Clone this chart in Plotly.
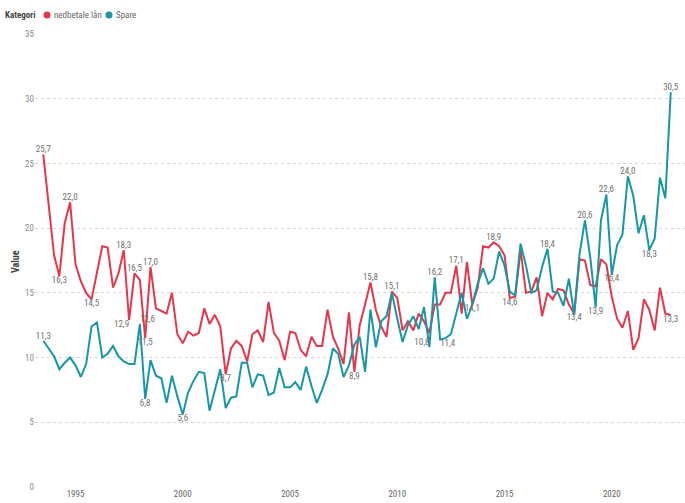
import pandas as pd
import plotly.graph_objects as go

# Quarterly observations, 1993 Q3 onward
periods = pd.date_range("1993-07-01", periods=118, freq="QS")

nedbetale_laan = [
    25.7, 21.8, 17.9, 16.3, 20.4, 22.0, 17.2, 15.9, 15.0, 14.5,
    16.5, 18.6, 18.5, 15.4, 16.5, 18.3, 12.9, 16.5, 16.0, 11.5,
    17.0, 13.8, 13.6, 13.4, 15.0, 11.8, 11.1, 12.0, 11.7, 11.9,
    13.8, 12.6, 13.3, 12.4, 8.7, 10.7, 11.3, 10.9, 9.7, 11.8,
    12.1, 11.2, 14.3, 11.9, 11.3, 9.8, 12.0, 11.9, 10.6, 10.1,
    11.6, 10.9, 10.9, 13.7, 11.6, 10.7, 9.5, 13.5, 8.9, 12.5,
    14.1, 15.8, 13.7, 12.4, 11.6, 15.1, 14.6, 12.1, 12.8, 12.1,
    13.4, 12.8, 11.9, 14.1, 14.1, 15.0, 15.0, 17.1, 13.4, 17.4,
    14.1, 15.4, 18.6, 18.5, 18.9, 18.6, 17.9, 14.6, 14.7, 18.3,
    15.0, 15.1, 16.2, 13.2, 15.0, 14.5, 15.3, 15.2, 14.1, 13.4,
    17.6, 17.5, 15.6, 15.5, 17.6, 17.2, 14.7, 13.0, 12.3, 13.6,
    10.6, 11.5, 14.5, 13.7, 12.1, 15.4, 13.4, 13.3,
]

spare = [
    11.3, 10.7, 10.1, 9.1, 9.6, 10.0, 9.4, 8.5, 9.5, 12.4,
    12.7, 10.0, 10.3, 10.9, 10.1, 9.7, 9.5, 9.5, 12.6, 6.8,
    9.8, 8.6, 8.4, 6.5, 8.6, 7.0, 5.6, 7.3, 8.2, 8.9,
    8.8, 5.9, 7.5, 9.1, 6.1, 6.9, 7.0, 9.6, 9.6, 7.7,
    8.7, 8.6, 7.1, 7.3, 9.2, 7.7, 7.7, 8.1, 7.5, 9.3,
    7.8, 6.5, 7.5, 8.7, 10.7, 10.3, 8.5, 9.4, 11.0, 11.6,
    8.9, 13.7, 10.8, 12.8, 13.2, 15.0, 13.0, 11.2, 12.5, 13.2,
    12.2, 13.9, 10.8, 16.2, 11.4, 11.5, 11.8, 13.4, 15.0, 13.0,
    14.1, 15.7, 16.9, 15.7, 16.1, 18.2, 17.1, 15.1, 14.8, 18.8,
    17.1, 15.0, 15.2, 17.0, 18.4, 15.1, 15.0, 14.0, 16.1, 13.3,
    18.0, 20.6, 17.7, 13.9, 20.6, 22.6, 16.4, 18.7, 19.5, 24.0,
    22.5, 19.6, 21.0, 18.3, 19.2, 23.9, 22.3, 30.5,
]

# Which points carry a data label (index into the series), above / below
red_labels_above = [0, 5, 15, 17, 20, 61, 65, 77, 84]
red_labels_below = [3, 9, 16, 19, 34, 58, 80, 87, 99, 117]
teal_labels_above = [0, 18, 72, 73, 94, 101, 105, 109, 117]
teal_labels_below = [19, 26, 74, 103, 106, 113]
# a few crowded labels are nudged sideways
label_side = {("red", 16): "left", ("teal", 18): "right",
              ("teal", 72): "left", ("teal", 74): "right"}

year_ticks = ["1995", "2000", "2005", "2010", "2015", "2020"]
legend_title = "Kategori"
series_names = ["nedbetale lån", "Spare"]

RED = "#E6364B"
TEAL = "#1797A6"
LABEL_GREY = "#707070"
FONT = "Roboto Condensed, Liberation Sans Narrow, DejaVu Sans Condensed, Roboto, sans-serif"


def fmt(v):
    return f"{v:.1f}".replace(".", ",")


fig = go.Figure()

fig.add_trace(go.Scatter(x=periods, y=nedbetale_laan, mode="lines",
                         line=dict(color=RED, width=2), name=series_names[0]))
fig.add_trace(go.Scatter(x=periods, y=spare, mode="lines",
                         line=dict(color=TEAL, width=2), name=series_names[1]))

for key, series, idx_list, vpos in [
    ("red", nedbetale_laan, red_labels_above, "top"),
    ("red", nedbetale_laan, red_labels_below, "bottom"),
    ("teal", spare, teal_labels_above, "top"),
    ("teal", spare, teal_labels_below, "bottom"),
]:
    fig.add_trace(go.Scatter(
        x=[periods[i] for i in idx_list],
        y=[series[i] for i in idx_list],
        mode="text",
        text=[fmt(series[i]) for i in idx_list],
        textposition=[f"{vpos} {label_side.get((key, i), 'center')}" for i in idx_list],
        textfont=dict(family=FONT, size=9, color=LABEL_GREY),
        hoverinfo="skip", cliponaxis=False,
    ))

# compact legend drawn at the top-left (pixel geometry: plot spans x 35..685, y 34..487)
PW, PH, L = 650.0, 453.0, 35.0


def px_x(x):
    return (x - L) / PW


def px_y(y):
    return (487.0 - y) / PH


annotations = [
    dict(text=f"<b>{legend_title}</b>", x=px_x(3), y=px_y(15), xref="paper", yref="paper",
         xanchor="left", yanchor="middle", showarrow=False,
         font=dict(family=FONT, size=9, color="#444444")),
    dict(text=series_names[0], x=px_x(52), y=px_y(15), xref="paper", yref="paper",
         xanchor="left", yanchor="middle", showarrow=False,
         font=dict(family=FONT, size=9, color="#666666")),
    dict(text=series_names[1], x=px_x(114), y=px_y(15), xref="paper", yref="paper",
         xanchor="left", yanchor="middle", showarrow=False,
         font=dict(family=FONT, size=9, color="#666666")),
    dict(text="<b>Value</b>", textangle=-90, xref="paper", yref="paper",
         x=px_x(15), y=px_y(262), xanchor="center", yanchor="middle", showarrow=False,
         font=dict(family=FONT, size=10, color="#444444")),
]

shapes = []
for cx, col in [(47, RED), (109, TEAL)]:
    shapes.append(dict(type="circle", xref="paper", yref="paper",
                       x0=px_x(cx - 3.5), x1=px_x(cx + 3.5),
                       y0=px_y(15 + 3.5), y1=px_y(15 - 3.5),
                       fillcolor=col, line=dict(width=0)))

fig.update_layout(
    width=685, height=503,
    margin=dict(l=35, r=0, t=34, b=16, autoexpand=False),
    paper_bgcolor="white", plot_bgcolor="white",
    font=dict(family=FONT, size=9, color="#777777"),
    showlegend=False,
    xaxis=dict(
        type="date",
        range=["1993-02-10", "2023-06-01"],
        tickvals=[f"{y}-01-01" for y in year_ticks],
        ticktext=year_ticks,
        showgrid=False, zeroline=False, showline=False,
        ticks="", tickfont=dict(family=FONT, size=9, color="#666666"),
        automargin=False,
    ),
    yaxis=dict(
        range=[0, 35], tickvals=[0, 5, 10, 15, 20, 25, 30, 35],
        showgrid=True, gridcolor="#d6d6d6", griddash="dot", gridwidth=1,
        zeroline=False, showline=False, ticks="",
        tickfont=dict(family=FONT, size=9, color="#888888"),
        automargin=False,
    ),
    annotations=annotations,
    shapes=shapes,
)

fig.write_html("out.html", config={"displayModeBar": False},
               post_script="document.body.style.margin='0';")
